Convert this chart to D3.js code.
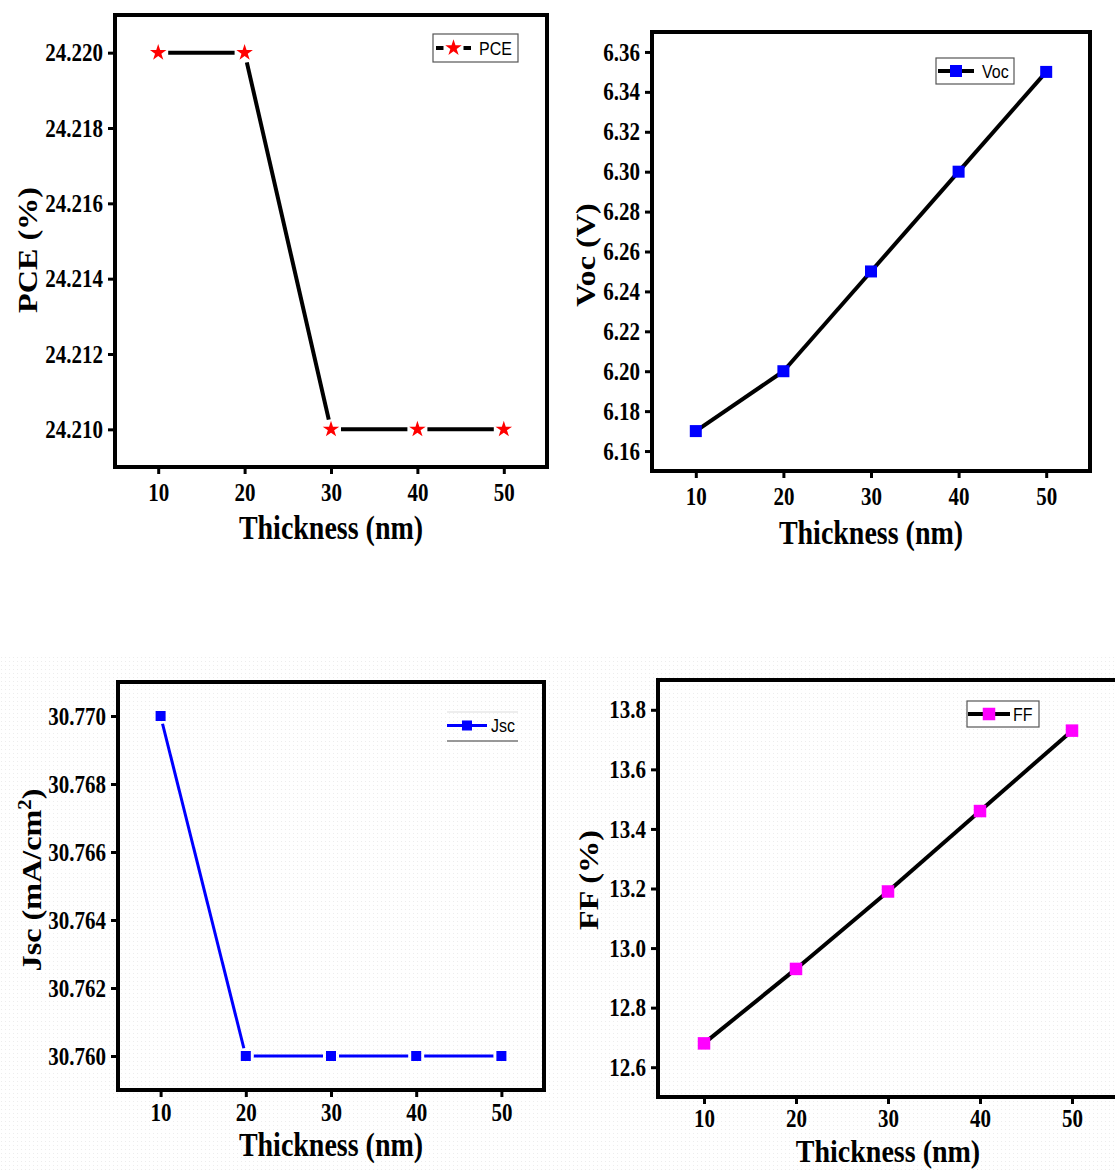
<!DOCTYPE html>
<html>
<head>
<meta charset="utf-8">
<script src="https://cdn.jsdelivr.net/npm/d3@7"></script>
<style>
  html, body { margin: 0; padding: 0; background: #ffffff; }
  svg { display: block; }
  .tick text { font-family: "Liberation Serif", "Times New Roman", serif; font-weight: bold; font-size: 21px; fill: #000; }
  .axis-title { font-family: "Liberation Serif", "Times New Roman", serif; font-weight: bold; font-size: 28px; fill: #000; }
  .legend-text { font-family: "Liberation Sans", Arial, sans-serif; font-size: 16px; fill: #000; }
</style>
</head>
<body>
<svg id="fig" width="1115" height="1170"></svg>
<script>
// Absorber thickness sweep (nm)
const thickness = [10, 20, 30, 40, 50];

// Device parameters at each thickness
const pceValues = [24.220, 24.220, 24.210, 24.210, 24.210];
const vocValues = [6.17, 6.20, 6.25, 6.30, 6.35];
const jscValues = [30.770, 30.760, 30.760, 30.760, 30.760];
const ffValues  = [12.68, 12.93, 13.19, 13.46, 13.73];

// Axis ticks
const xTicks   = [10, 20, 30, 40, 50];
const pceTicks = [24.210, 24.212, 24.214, 24.216, 24.218, 24.220];
const vocTicks = [6.16, 6.18, 6.20, 6.22, 6.24, 6.26, 6.28, 6.30, 6.32, 6.34, 6.36];
const jscTicks = [30.760, 30.762, 30.764, 30.766, 30.768, 30.770];
const ffTicks  = [12.6, 12.8, 13.0, 13.2, 13.4, 13.6, 13.8];

// the lettering is drawn slightly tall
const TALL = 1.2;

const svg = d3.select("#fig");

// faint dotted texture behind the lower row
const defs = svg.append("defs");
const pat = defs.append("pattern")
  .attr("id", "dots").attr("width", 4).attr("height", 4)
  .attr("patternUnits", "userSpaceOnUse");
pat.append("rect").attr("width", 4).attr("height", 4).attr("fill", "#ffffff");
pat.append("rect").attr("x", 1).attr("y", 1).attr("width", 1).attr("height", 1).attr("fill", "#ededed");
svg.append("rect").attr("x", 0).attr("y", 655).attr("width", 1115).attr("height", 515)
  .attr("fill", "url(#dots)");

const panels = [
  {
    values: pceValues, ticks: pceTicks, fmt: ".3f", yDomain: [24.209, 24.221],
    box: { l: 115, r: 547, t: 15, b: 467 },
    lineColor: "#000", lineWidth: 4, marker: "star", markerColor: "#ff0000", gap: 10,
    xLabelBase: 34, xTitleY: 539, titleTall: TALL,
    yTitle: "PCE (%)", yTitleX: 37, yTitleY: 250,
    legend: { label: "PCE", x0: 433, x1: 518, y0: 34, y1: 62, lx0: 436, lx1: 471, tx: 479, box: true }
  },
  {
    values: vocValues, ticks: vocTicks, fmt: ".2f", yDomain: [6.15, 6.37],
    box: { l: 652, r: 1090, t: 32, b: 471 },
    lineColor: "#000", lineWidth: 4, marker: "square", markerSize: 12, markerColor: "#0000ff", gap: 0,
    xLabelBase: 34.5, xTitleY: 544, titleTall: TALL,
    yTitle: "Voc (V)", yTitleX: 595, yTitleY: 255,
    legend: { label: "Voc", x0: 936, x1: 1014, y0: 58, y1: 84, lx0: 938, lx1: 974, tx: 982, box: true }
  },
  {
    values: jscValues, ticks: jscTicks, fmt: ".3f", yDomain: [30.759, 30.771],
    box: { l: 118, r: 544, t: 682, b: 1090 },
    lineColor: "#0000ff", lineWidth: 3, marker: "square", markerSize: 10, markerColor: "#0000ff", gap: 8,
    xLabelBase: 31.5, xTitleY: 1156, titleTall: TALL,
    yTitle: null, yTitleX: 41, yTitleY: 880,
    legend: { label: "Jsc", x0: 447, x1: 518, y0: 712, y1: 741, lx0: 447, lx1: 487, tx: 491, box: false }
  },
  {
    values: ffValues, ticks: ffTicks, fmt: ".1f", yDomain: [12.5, 13.9],
    box: { l: 658, r: 1118, t: 680, b: 1097 },
    lineColor: "#000", lineWidth: 4, marker: "square", markerSize: 12.5, markerColor: "#ff00ff", gap: 0,
    xLabelBase: 30, xTitleY: 1162, titleTall: 1.1,
    yTitle: "FF (%)", yTitleX: 598, yTitleY: 880,
    legend: { label: "FF", x0: 967, x1: 1039, y0: 701, y1: 727, lx0: 968, lx1: 1010, tx: 1013, box: true }
  }
];

panels.forEach((p, i) => {
  const g = svg.append("g");
  const x = d3.scaleLinear().domain([5, 55]).range([p.box.l, p.box.r]);
  const y = d3.scaleLinear().domain(p.yDomain).range([p.box.b, p.box.t]);

  // plotting area
  g.append("rect")
    .attr("x", p.box.l).attr("y", p.box.t)
    .attr("width", p.box.r - p.box.l).attr("height", p.box.b - p.box.t)
    .attr("fill", i >= 2 ? "url(#dots)" : "#ffffff");

  // axes
  const yAxis = g.append("g")
    .attr("transform", `translate(${p.box.l},0)`)
    .call(d3.axisLeft(y).tickValues(p.ticks).tickSize(7).tickPadding(5).tickFormat(d3.format(p.fmt)));
  const xAxis = g.append("g")
    .attr("transform", `translate(0,${p.box.b})`)
    .call(d3.axisBottom(x).tickValues(xTicks).tickSize(7).tickFormat(d3.format("d")));
  [xAxis, yAxis].forEach(a => {
    a.select(".domain").remove();
    a.selectAll(".tick line").attr("stroke", "#000").attr("stroke-width", 3);
    a.attr("font-family", null).attr("font-size", null);
  });
  yAxis.selectAll(".tick text").attr("transform", `scale(1,${TALL})`);
  xAxis.selectAll(".tick text")
    .attr("dy", null)
    .attr("y", p.xLabelBase / TALL)
    .attr("transform", `scale(1,${TALL})`);

  // data line, segment by segment (optionally trimmed near markers)
  const pts = thickness.map((t, k) => [x(t), y(p.values[k])]);
  for (let k = 0; k < pts.length - 1; k++) {
    const [x0, y0] = pts[k], [x1, y1] = pts[k + 1];
    const len = Math.hypot(x1 - x0, y1 - y0);
    const ux = (x1 - x0) / len, uy = (y1 - y0) / len;
    g.append("line")
      .attr("x1", x0 + ux * p.gap).attr("y1", y0 + uy * p.gap)
      .attr("x2", x1 - ux * p.gap).attr("y2", y1 - uy * p.gap)
      .attr("stroke", p.lineColor).attr("stroke-width", p.lineWidth);
  }

  // markers
  if (p.marker === "star") {
    g.selectAll("path.mk").data(pts).join("path")
      .attr("class", "mk")
      .attr("d", d3.symbol(d3.symbolStar, 85))
      .attr("transform", d => `translate(${d[0]},${d[1]})`)
      .attr("fill", p.markerColor);
  } else {
    g.selectAll("rect.mk").data(pts).join("rect")
      .attr("class", "mk")
      .attr("x", d => d[0] - p.markerSize / 2).attr("y", d => d[1] - p.markerSize / 2)
      .attr("width", p.markerSize).attr("height", p.markerSize)
      .attr("fill", p.markerColor);
  }

  // frame
  g.append("rect")
    .attr("x", p.box.l).attr("y", p.box.t)
    .attr("width", p.box.r - p.box.l).attr("height", p.box.b - p.box.t)
    .attr("fill", "none").attr("stroke", "#000").attr("stroke-width", 4);

  // x title
  g.append("text").attr("class", "axis-title")
    .attr("text-anchor", "middle")
    .attr("transform", `translate(${(p.box.l + p.box.r) / 2},${p.xTitleY}) scale(1,${p.titleTall})`)
    .text("Thickness (nm)");

  // y title
  const yt = g.append("text").attr("class", "axis-title")
    .attr("text-anchor", "middle")
    .attr("transform", `translate(${p.yTitleX},${p.yTitleY}) rotate(-90) scale(1.15,1)`);
  if (p.yTitle) {
    yt.text(p.yTitle);
  } else {
    yt.append("tspan").text("Jsc (mA/cm");
    yt.append("tspan").attr("font-size", "18px").attr("dy", "-10").text("2");
    yt.append("tspan").attr("dy", "10").text(")");
  }

  // legend
  const L = p.legend;
  const ly = (L.y0 + L.y1) / 2;
  const lg = g.append("g");
  if (L.box) {
    lg.append("rect")
      .attr("x", L.x0).attr("y", L.y0).attr("width", L.x1 - L.x0).attr("height", L.y1 - L.y0)
      .attr("fill", "#ffffff").attr("stroke", "#555").attr("stroke-width", 1.2);
  } else {
    lg.append("line").attr("x1", L.x0).attr("x2", L.x1).attr("y1", L.y0).attr("y2", L.y0)
      .attr("stroke", "#dddddd").attr("stroke-width", 1);
    lg.append("line").attr("x1", L.x0).attr("x2", L.x1).attr("y1", L.y1).attr("y2", L.y1)
      .attr("stroke", "#777777").attr("stroke-width", 1.5);
  }
  const lyLine = L.box ? ly : ly - 1;
  lg.append("line").attr("x1", L.lx0).attr("x2", L.lx1).attr("y1", lyLine).attr("y2", lyLine)
    .attr("stroke", p.lineColor).attr("stroke-width", p.lineWidth);
  const mx = (L.lx0 + L.lx1) / 2;
  if (p.marker === "star") {
    lg.append("rect").attr("x", mx - 10).attr("y", ly - 9).attr("width", 20).attr("height", 18).attr("fill", "#ffffff");
    lg.append("path").attr("d", d3.symbol(d3.symbolStar, 85))
      .attr("transform", `translate(${mx},${ly})`).attr("fill", p.markerColor);
  } else {
    lg.append("rect")
      .attr("x", mx - p.markerSize / 2).attr("y", lyLine - p.markerSize / 2)
      .attr("width", p.markerSize).attr("height", p.markerSize).attr("fill", p.markerColor);
  }
  lg.append("text").attr("class", "legend-text")
    .attr("transform", `translate(${L.tx},${lyLine + 6.5}) scale(1,1.15)`)
    .text(L.label);
});
</script>
</body>
</html>
